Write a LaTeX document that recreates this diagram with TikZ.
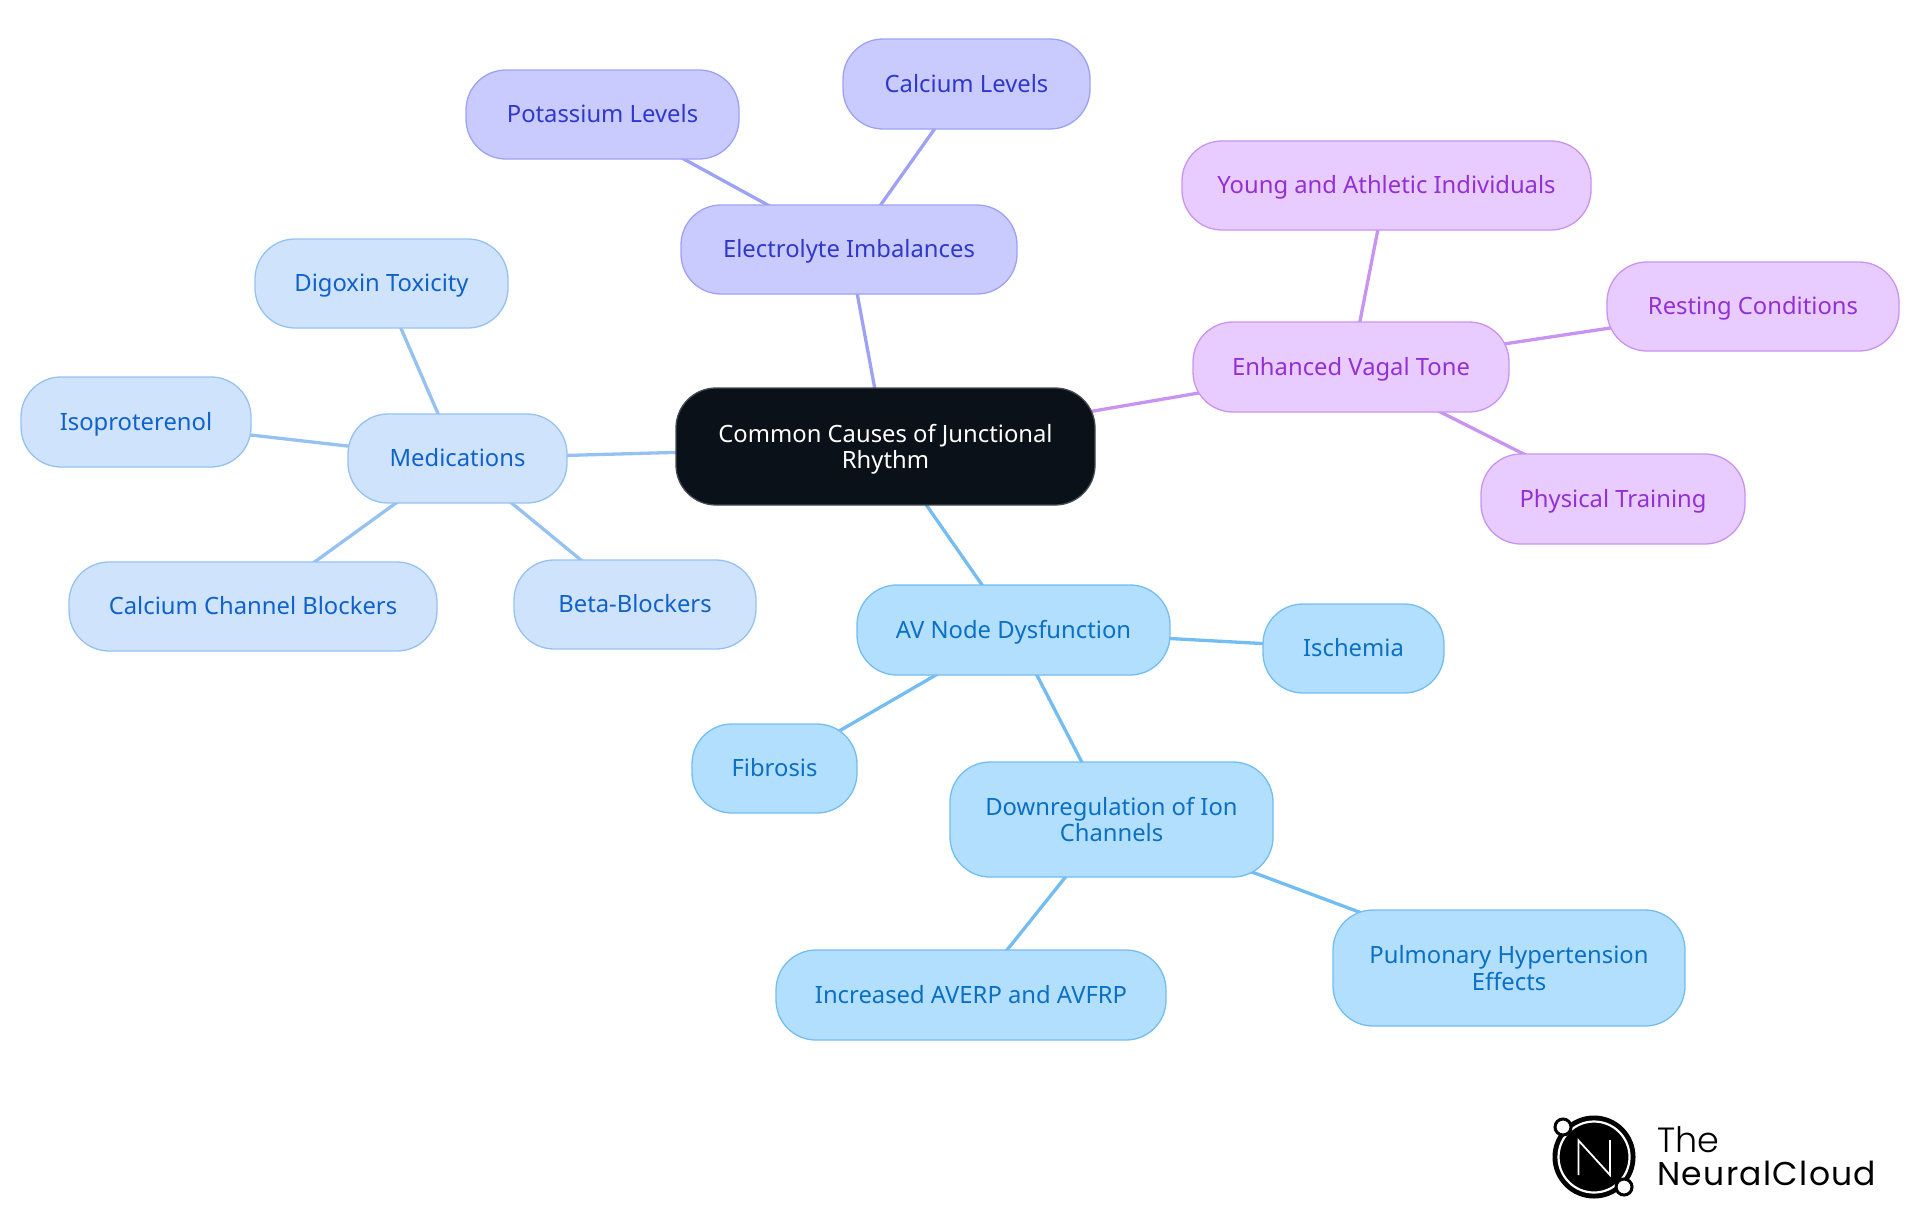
\documentclass[tikz,border=0pt]{standalone}
\usepackage{fontspec}
\setmainfont{Noto Sans}
\newfontfamily\logofont[LetterSpace=4]{Poppins}
\newfontfamily\logolight{Poppins Light}
\usetikzlibrary{backgrounds}
\definecolor{rootfill}{HTML}{0B1119}
\definecolor{rootline}{HTML}{454A50}
\definecolor{skyfill}{HTML}{B3DFFF}
\definecolor{skyline}{HTML}{74BDF2}
\definecolor{skytext}{HTML}{0B6FC4}
\definecolor{medfill}{HTML}{CFE3FC}
\definecolor{medline}{HTML}{95C2F2}
\definecolor{medtext}{HTML}{0F62CC}
\definecolor{elefill}{HTML}{C9CAFE}
\definecolor{eleline}{HTML}{9EA2F5}
\definecolor{eletext}{HTML}{2F38CA}
\definecolor{vagfill}{HTML}{E9CCFF}
\definecolor{vagline}{HTML}{C993F2}
\definecolor{vagtext}{HTML}{9230D6}
\newcommand{\lastline}{\rule[-3pt]{0pt}{3pt}}
\newcommand{\firstline}{\rule{0pt}{11.9pt}}
\tikzset{
  x=0.5pt,y=-0.5pt,
  mapnode/.style 2 args={rectangle,rounded corners=20pt,inner sep=0pt,line width=0.65pt,align=center,
    font=\fontsize{11.9}{13.3}\selectfont,minimum width=#1*0.5pt,minimum height=#2*0.5pt,
    execute at begin node=\rule[-3pt]{0pt}{14pt}},
  rootnode/.style 2 args={mapnode={#1}{#2},draw=rootline,fill=rootfill,text=white},
  skynode/.style 2 args={mapnode={#1}{#2},draw=skyline,fill=skyfill,text=skytext},
  mednode/.style 2 args={mapnode={#1}{#2},draw=medline,fill=medfill,text=medtext},
  elenode/.style 2 args={mapnode={#1}{#2},draw=eleline,fill=elefill,text=eletext},
  vagnode/.style 2 args={mapnode={#1}{#2},draw=vagline,fill=vagfill,text=vagtext},
  link/.style={line width=1.65pt,line cap=round},
  logoline/.style={line width=0.9pt,white,line join=miter},
}
\begin{document}
\begin{tikzpicture}
\useasboundingbox (0,0) rectangle (1920,1215);
\node[rootnode={419}{117}] (root) at (885.5,446.5) {\firstline Common Causes of Junctional\\Rhythm\lastline};
\node[elenode={336}{89}] (ele) at (849,249.5) {Electrolyte Imbalances};
\node[elenode={273}{89}] (pot) at (602.5,114.5) {Potassium Levels};
\node[elenode={247}{90}] (cal) at (966.5,84) {Calcium Levels};
\node[mednode={219}{89}] (med) at (457.5,458.5) {Medications};
\node[mednode={253}{89}] (dig) at (381.5,283.5) {Digoxin Toxicity};
\node[mednode={230}{90}] (iso) at (136,422) {Isoproterenol};
\node[mednode={368}{89}] (ccb) at (253,606.5) {Calcium Channel Blockers};
\node[mednode={242}{89}] (bet) at (635,604.5) {Beta-Blockers};
\node[skynode={313}{90}] (av) at (1013.5,630) {AV Node Dysfunction};
\node[skynode={181}{89}] (isc) at (1353.5,648.5) {Ischemia};
\node[skynode={165}{89}] (fib) at (774.5,768.5) {Fibrosis};
\node[skynode={323}{115}] (dow) at (1111.5,819.5) {\firstline Downregulation of Ion\\Channels\lastline};
\node[skynode={390}{90}] (inc) at (971,995) {Increased AVERP and AVFRP};
\node[skynode={352}{116}] (pul) at (1509,968) {\firstline Pulmonary Hypertension\\Effects\lastline};
\node[vagnode={316}{90}] (vag) at (1351,367) {Enhanced Vagal Tone};
\node[vagnode={409}{89}] (you) at (1386.5,185.5) {Young and Athletic Individuals};
\node[vagnode={292}{89}] (res) at (1753,306.5) {Resting Conditions};
\node[vagnode={264}{90}] (phy) at (1613,499) {Physical Training};
\begin{scope}[on background layer]
\draw[link,eleline] (root.center) -- (ele.center);
\draw[link,eleline] (ele.center) -- (pot.center);
\draw[link,eleline] (ele.center) -- (cal.center);
\draw[link,medline] (root.center) -- (med.center);
\draw[link,medline] (med.center) -- (dig.center);
\draw[link,medline] (med.center) -- (iso.center);
\draw[link,medline] (med.center) -- (ccb.center);
\draw[link,medline] (med.center) -- (bet.center);
\draw[link,skyline] (root.center) -- (av.center);
\draw[link,skyline] (av.center) -- (isc.center);
\draw[link,skyline] (av.center) -- (fib.center);
\draw[link,skyline] (av.center) -- (dow.center);
\draw[link,skyline] (dow.center) -- (inc.center);
\draw[link,skyline] (dow.center) -- (pul.center);
\draw[link,vagline] (root.center) -- (vag.center);
\draw[link,vagline] (vag.center) -- (you.center);
\draw[link,vagline] (vag.center) -- (res.center);
\draw[link,vagline] (vag.center) -- (phy.center);
\end{scope}
% logo
\coordinate (logoc) at (1594,1157);
\fill[black] (logoc) circle[radius=41.5];
\draw[white,line width=1.1pt] (logoc) circle[radius=35.5];
\draw[black,line width=1.5pt,fill=white] (1563,1127) circle[radius=8];
\draw[black,line width=1.5pt,fill=white] (1624,1187) circle[radius=8];
\draw[logoline] (1578.5,1175) -- (1578.5,1140.5) -- (1610,1175) -- (1610,1140);
\node[anchor=base west,inner sep=0pt,font=\logolight\fontsize{17.5}{18}\selectfont] (lt) at (1657,1152) {The};
\node[anchor=base west,inner sep=0pt,font=\logofont\fontsize{16.5}{18}\selectfont] (ln) at (1657,1185) {NeuralCloud};
\end{tikzpicture}
\end{document}
